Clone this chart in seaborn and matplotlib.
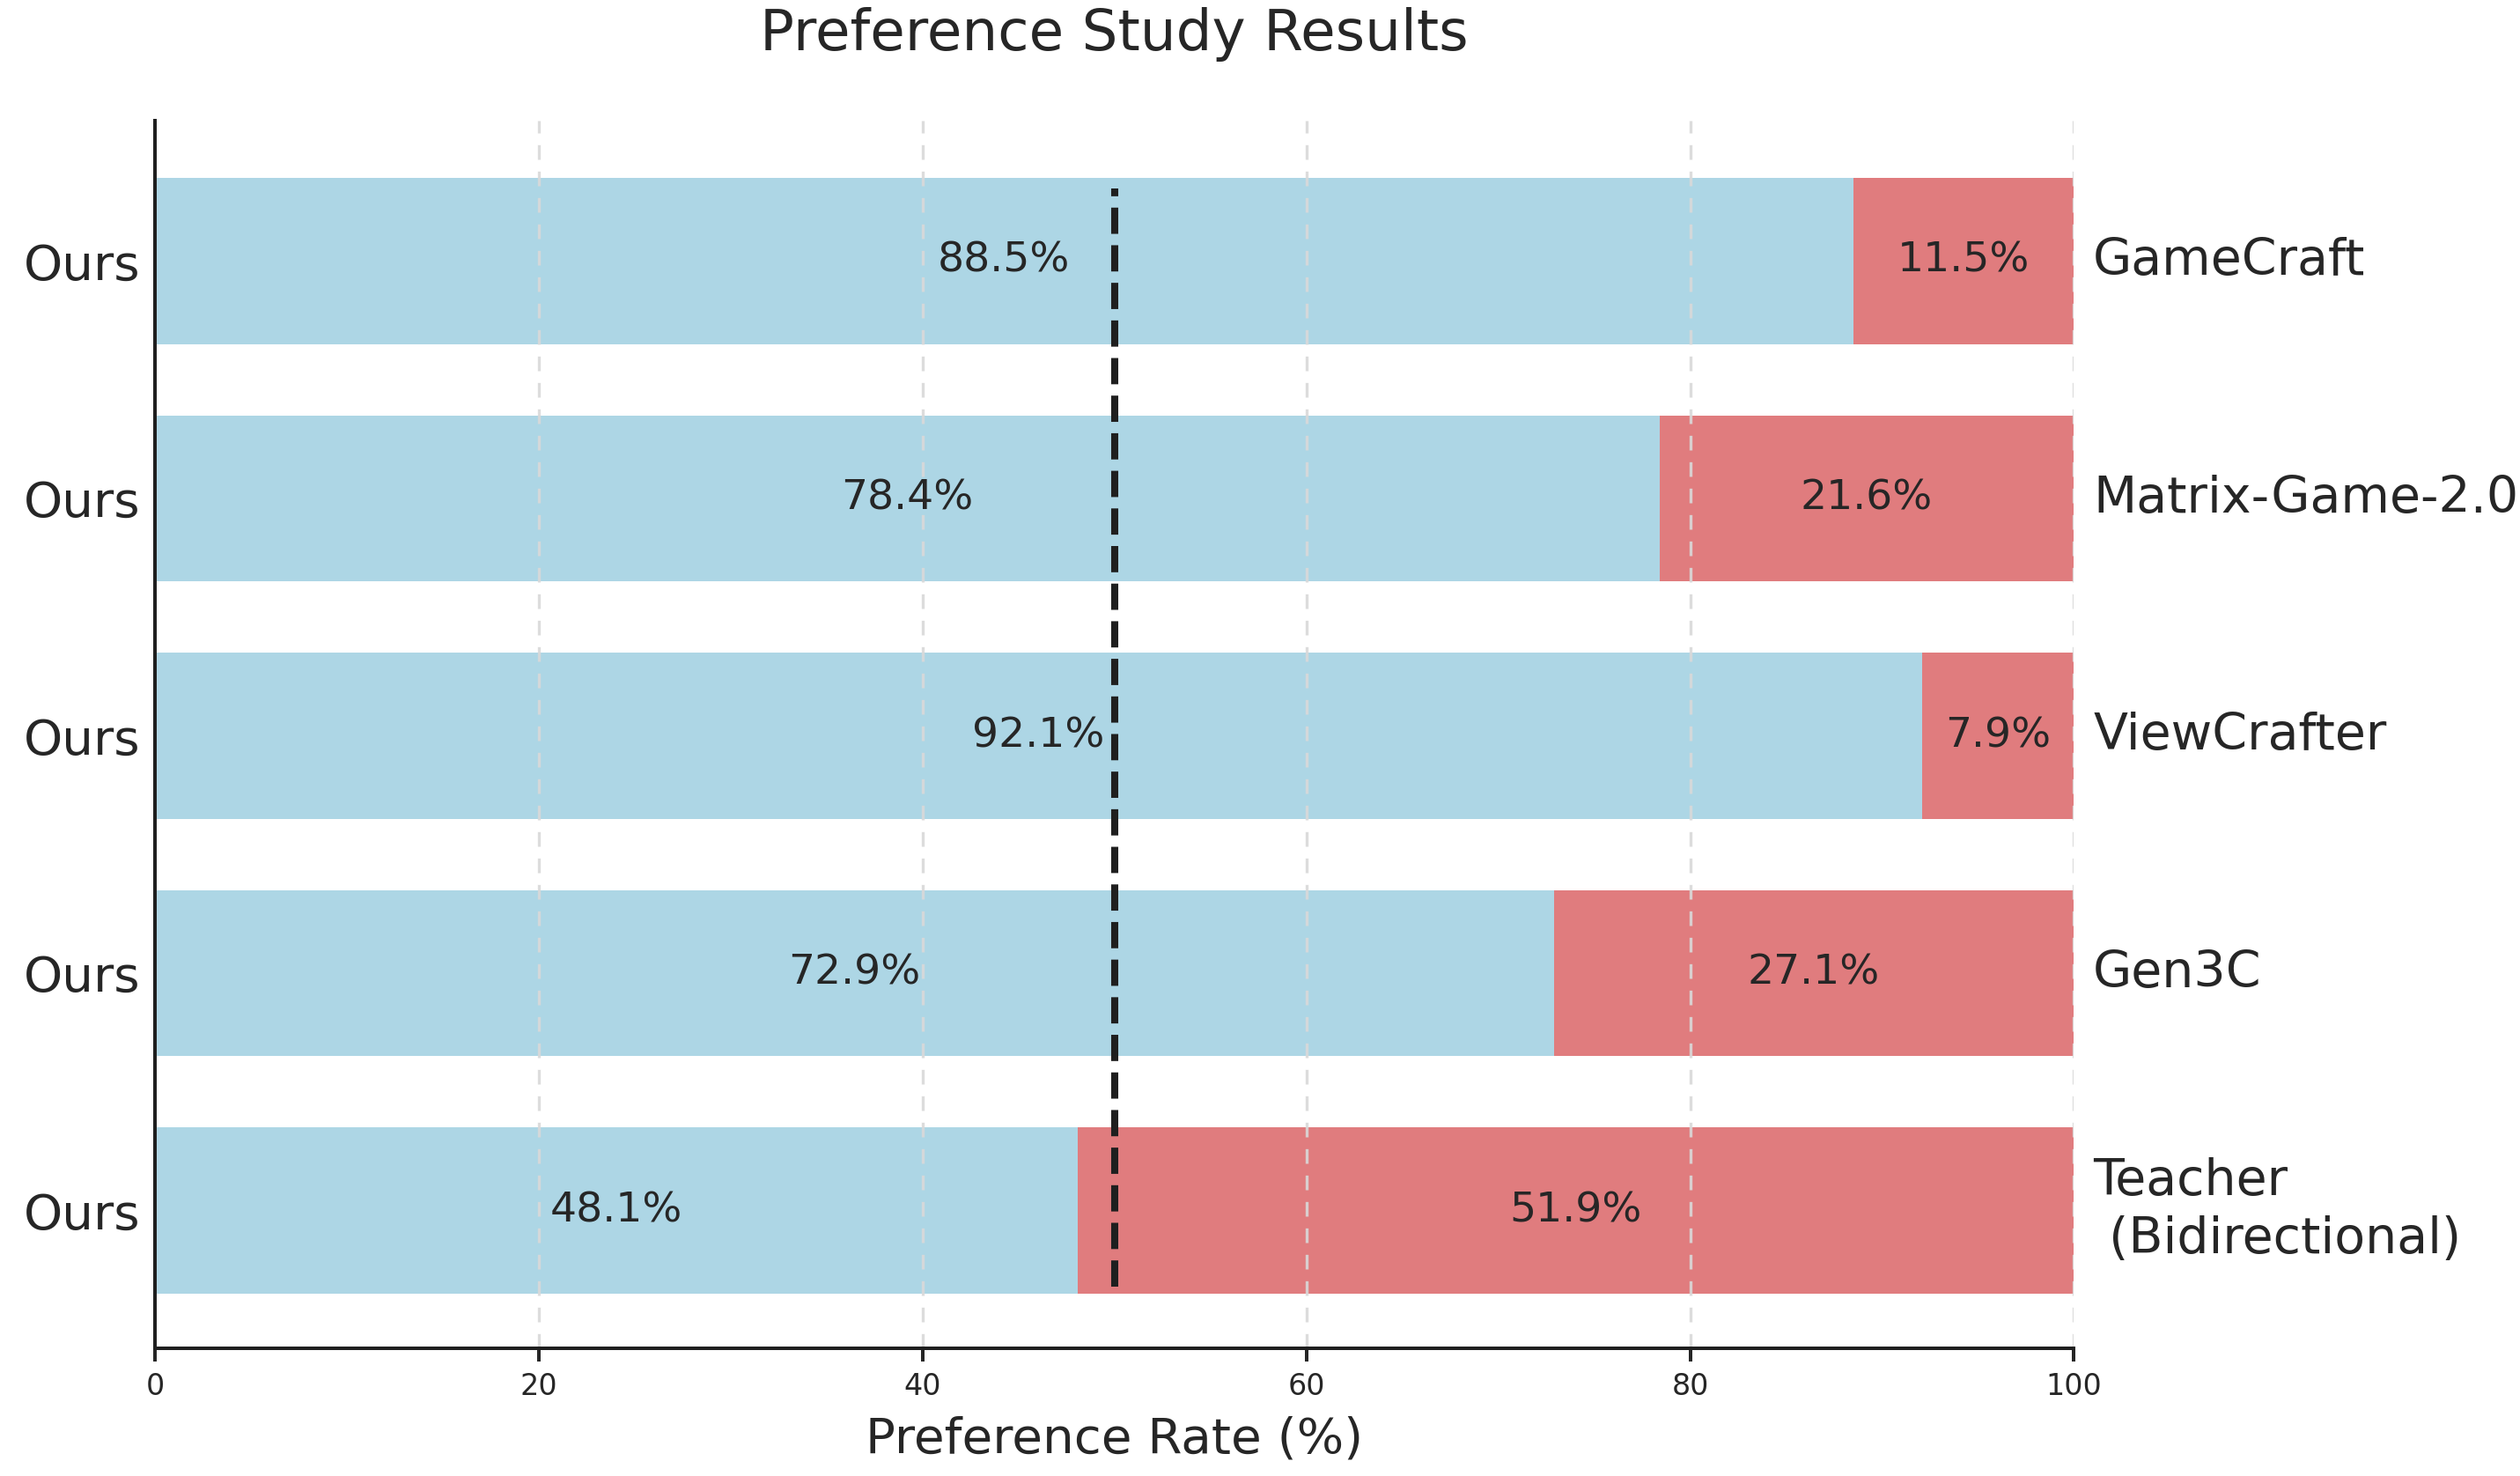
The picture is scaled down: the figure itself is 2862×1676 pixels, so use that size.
import numpy as np
import pandas as pd
import matplotlib
matplotlib.use("Agg")
import matplotlib.pyplot as plt
import seaborn as sns

# ---- data ----
competitors = ["GameCraft", "Matrix-Game-2.0", "ViewCrafter", "Gen3C", "Teacher\n (Bidirectional)"]
ours_rate = [88.5, 78.4, 92.1, 72.9, 48.1]
other_rate = [11.5, 21.6, 7.9, 27.1, 51.9]
left_label = "Ours"

sns.set_theme(style="ticks")
plt.rcParams["font.family"] = ["DejaVu Sans"]

BLUE = "#ADD6E5"
RED = "#E07C7E"
TXT = "#262626"

df = pd.DataFrame({
    "competitor": competitors,
    "ours": ours_rate,
    "other": other_rate,
})
df["total"] = df["ours"] + df["other"]

fig = plt.figure(figsize=(14.31, 8.38), dpi=200)
ax = fig.add_axes([0.0615, 0.0865, 0.823 - 0.0615, 0.918 - 0.0865])

sns.barplot(data=df, x="total", y="competitor", orient="h", color=RED,
            width=0.7, saturation=1, ax=ax, errorbar=None, linewidth=0, edgecolor="none")
sns.barplot(data=df, x="ours", y="competitor", orient="h", color=BLUE,
            width=0.7, saturation=1, ax=ax, errorbar=None, linewidth=0, edgecolor="none")

ax.set_xlim(0, 100)
n = len(competitors)
ax.set_ylim(n - 1 + 0.58, -0.59)

# grid on top of bars
ax.set_axisbelow(False)
ax.xaxis.grid(True, linestyle=(0, (5, 4)), color="#d9d9d9", linewidth=1.2, alpha=0.9)
ax.yaxis.grid(False)

# 50% reference line
ax.axvline(50, ymin=0.05, ymax=0.945, color="#1f1f1f", linestyle="--", linewidth=2.9, zorder=5)

# value labels
for i, (o, t) in enumerate(zip(df["ours"], df["other"])):
    ax.text(o / 2, i, f"{o:.1f}%", ha="center", va="center", fontsize=17, color=TXT, zorder=4)
    ax.text(o + t / 2, i, f"{t:.1f}%", ha="center", va="center", fontsize=17, color=TXT, zorder=4)
    ax.text(101, i, competitors[i], ha="left", va="center", fontsize=20.5, color=TXT,
            clip_on=False, linespacing=1.25)

ax.set_yticks(range(n))
ax.set_yticklabels([left_label] * n, fontsize=20.3, color=TXT)
ax.tick_params(axis="y", length=0, pad=6)
ax.set_xticks([0, 20, 40, 60, 80, 100])
ax.tick_params(axis="x", labelsize=12, length=5.3, width=1.44, colors=TXT, pad=4.5)
ax.set_ylabel("")
ax.set_xlabel("Preference Rate (%)", fontsize=20.3, color=TXT, labelpad=6)
ax.set_title("Preference Study Results", fontsize=23.2, color=TXT, pad=29)

sns.despine(ax=ax)
for s in ["left", "bottom"]:
    ax.spines[s].set_linewidth(1.44)
    ax.spines[s].set_color("#1f1f1f")
    ax.spines[s].set_zorder(10)

fig.savefig("out.png", dpi=200)
